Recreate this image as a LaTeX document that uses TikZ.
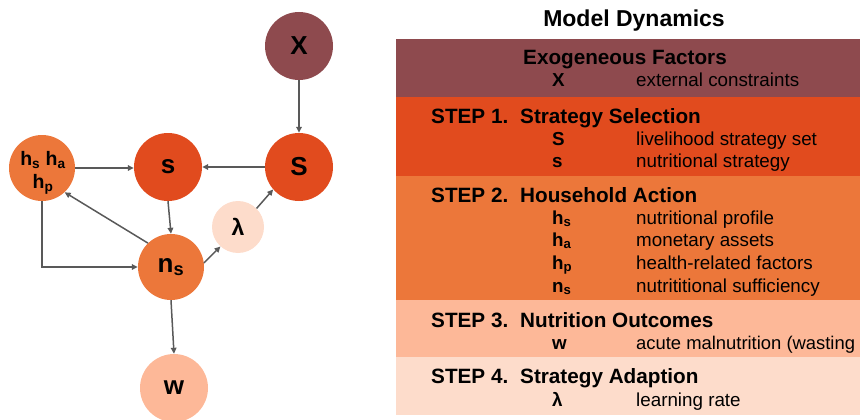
\documentclass[tikz,border=0pt]{standalone}
\usepackage{fontspec}
\setmainfont{Liberation Sans}
\usetikzlibrary{arrows.meta}
\definecolor{cMaroon}{HTML}{8E4A4E}
\definecolor{cRed}{HTML}{E14B1E}
\definecolor{cOrange}{HTML}{EC773A}
\definecolor{cSalmon}{HTML}{FDB898}
\definecolor{cLight}{HTML}{FDDCCB}
\definecolor{cGray}{HTML}{595959}
\begin{document}
\begin{tikzpicture}[x=1pt,y=-1pt,
  circ/.style={circle, inner sep=0pt, font=\fontsize{26}{26}\selectfont\bfseries},
  arr/.style={draw=cGray, line width=1.5pt, -{Triangle[length=6pt,width=5.5pt]}},
  rowtxt/.style={anchor=base west, inner sep=0pt, font=\fontsize{18.8}{18.8}\selectfont},
  symtxt/.style={anchor=base west, inner sep=0pt, font=\fontsize{18.8}{18.8}\selectfont\bfseries},
  steptxt/.style={anchor=base west, inner sep=0pt, font=\fontsize{20.7}{20.7}\selectfont\bfseries}]
\useasboundingbox (0,0) rectangle (860,420);

% ---- graph ----
\node[circ, fill=cMaroon, minimum size=68pt] (X) at (299,46) {X};
\node[circ, fill=cRed, minimum size=68pt] (S) at (299,167) {S};
\node[circ, fill=cRed, minimum size=68pt] (s) at (168,167) {s};
\node[circ, fill=cOrange, minimum size=66pt] (h) at (42,168) {};
\node[inner sep=0pt, align=center, font=\fontsize{19.5}{23}\selectfont\bfseries] (hlbl) at (43,173)
      {h\textsubscript{s} h\textsubscript{a}\\h\textsubscript{p}};
\node[circ, fill=cOrange, minimum size=66pt] (ns) at (171,267) {n\textsubscript{s}};
\node[circ, fill=cLight, minimum size=52pt, font=\fontsize{23}{23}\selectfont\bfseries] (lam) at (238,227) {λ};
\node[circ, fill=cSalmon, minimum size=68pt] (w) at (174,388) {w};

\draw[arr] (X) -- (S);
\draw[arr] (S) -- (s);
\draw[arr] (h.east) -- (h.east -| s.west);
\draw[arr] (s.south) -- (ns.north);
\draw[arr] (ns.134) -- (h.-47);
\draw[arr] (h.south) |- (ns.west);
\draw[arr] (ns.7) -- (lam.228);
\draw[arr] (lam.45) -- (S.221);
\draw[arr] (ns.south) -- (w.north);

% ---- table ----
\node[anchor=base, inner sep=0pt, font=\fontsize{23}{23}\selectfont\bfseries] (title) at (634,27) {Model Dynamics};
\begin{scope}
\clip (396,0) rectangle (860,420);
\fill[cMaroon] (396,39) rectangle (860,97);
\fill[cRed] (396,97) rectangle (860,176);
\fill[cOrange] (396,176) rectangle (860,300);
\fill[cSalmon] (396,300) rectangle (860,357);
\fill[cLight] (396,357) rectangle (860,415);

\node[steptxt] (t0) at (523,65) {Exogeneous Factors};
\node[symtxt] (t0a) at (552,87) {X};
\node[rowtxt] (t0b) at (636,87) {external constraints};

\node[steptxt] (t1) at (431,123) {\makebox[89pt][l]{STEP 1.}Strategy Selection};
\node[symtxt] (t1a) at (552,145) {S};
\node[rowtxt] (t1b) at (636,145) {livelihood strategy set};
\node[symtxt] (t1c) at (552,167) {s};
\node[rowtxt] (t1d) at (636,167) {nutritional strategy};

\node[steptxt] (t2) at (431,202) {\makebox[89pt][l]{STEP 2.}Household Action};
\node[symtxt] (t2a) at (552,224) {h\textsubscript{s}};
\node[rowtxt] (t2b) at (636,224) {nutritional profile};
\node[symtxt] (t2c) at (552,246) {h\textsubscript{a}};
\node[rowtxt] (t2d) at (636,246) {monetary assets};
\node[symtxt] (t2e) at (552,269) {h\textsubscript{p}};
\node[rowtxt] (t2f) at (636,269) {health-related factors};
\node[symtxt] (t2g) at (552,292) {n\textsubscript{s}};
\node[rowtxt] (t2h) at (636,292) {nutrititional sufficiency};

\node[steptxt] (t3) at (431,327) {\makebox[89pt][l]{STEP 3.}Nutrition Outcomes};
\node[symtxt] (t3a) at (552,349) {w};
\node[rowtxt, font=\fontsize{18.4}{18.4}\selectfont] (t3b) at (636,349) {acute malnutrition (wasting};

\node[steptxt] (t4) at (431,383) {\makebox[89pt][l]{STEP 4.}Strategy Adaption};
\node[symtxt] (t4a) at (552,406) {λ};
\node[rowtxt] (t4b) at (636,406) {learning rate};
\end{scope}
\end{tikzpicture}
\end{document}
